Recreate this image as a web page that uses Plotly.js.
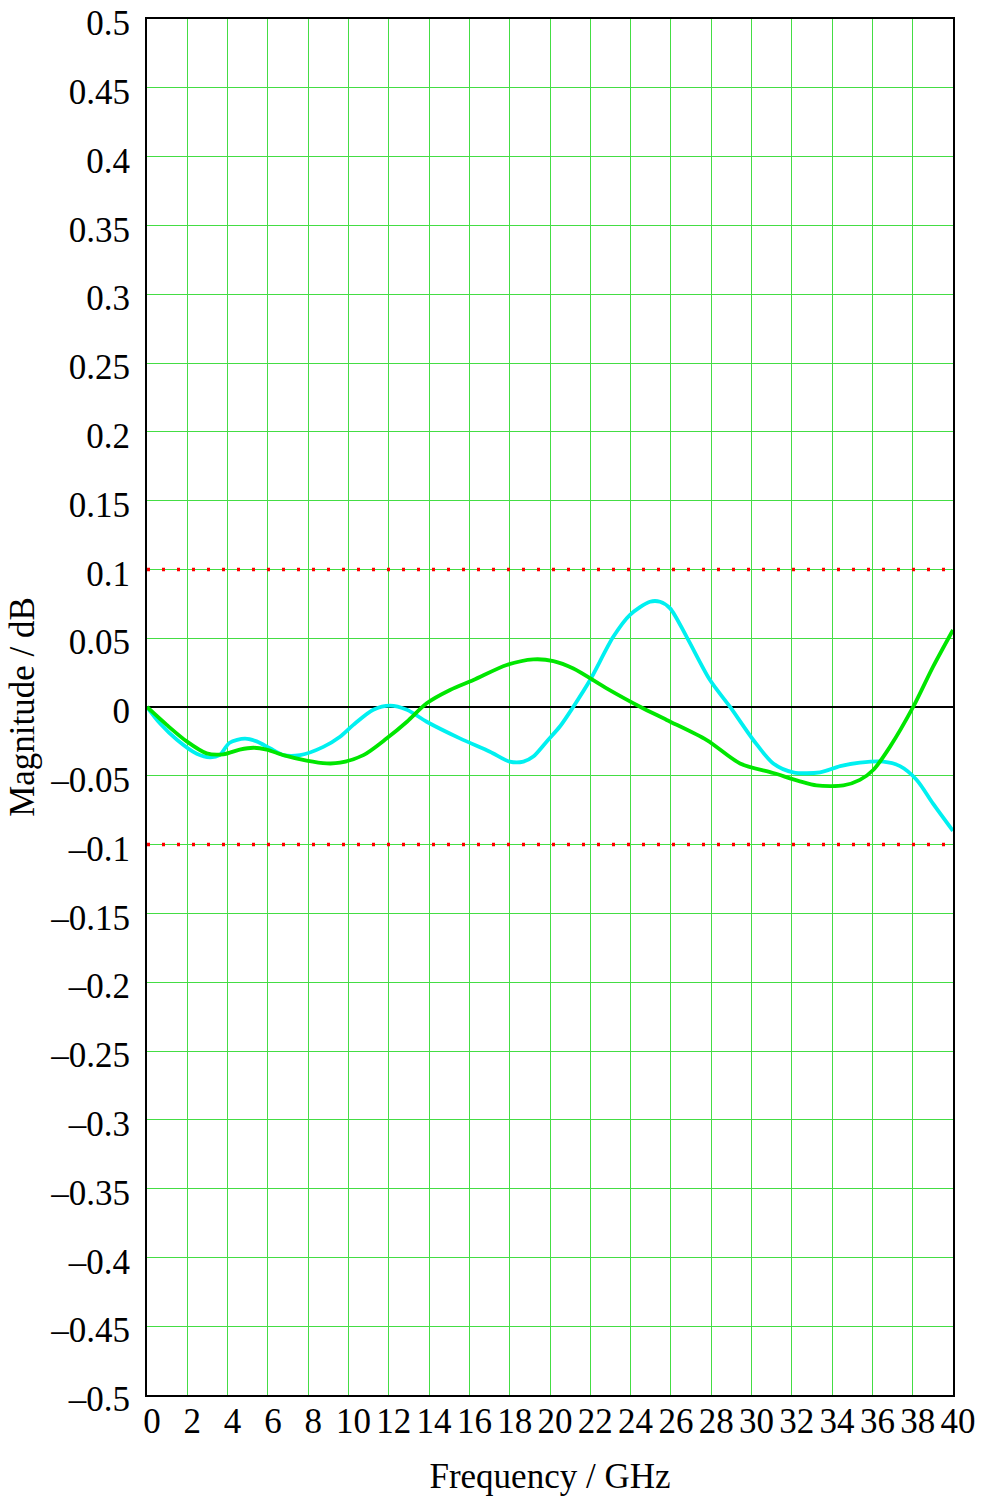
<!DOCTYPE html>
<html>
<head>
<meta charset="utf-8">
<script src="https://cdn.plot.ly/plotly-3.0.1.min.js"></script>
<style>html,body{margin:0;padding:0;background:#fff}#chart{width:988px;height:1499px}</style>
</head>
<body>
<div id="chart"></div>
<script>
// Cyan trace
const cyanFreq = [0, 0.65, 1.5, 2.47, 3.13, 3.6, 4.1, 4.86, 5.44, 6.1, 6.77, 7.6, 8.75, 9.58, 10.24, 11.23, 12.06, 12.9, 13.88, 15.53, 17.02, 18.0, 18.68, 19.17, 19.84, 20.5, 21.16, 21.99, 23.14, 23.97, 24.96, 25.46, 25.96, 26.78, 27.94, 28.93, 30.09, 31.08, 32.07, 33.4, 34.4, 35.38, 36.54, 37.37, 38.2, 39.0, 40.0];
const cyanMag  = [0, -0.012, -0.024, -0.034, -0.0366, -0.035, -0.026, -0.023, -0.025, -0.030, -0.035, -0.035, -0.029, -0.0216, -0.013, -0.002, 0.001, -0.002, -0.0107, -0.0228, -0.0325, -0.0397, -0.0397, -0.036, -0.025, -0.014, 0.0002, 0.0196, 0.051, 0.067, 0.0765, 0.0765, 0.0717, 0.051, 0.0196, 0.0002, -0.024, -0.041, -0.0475, -0.0475, -0.043, -0.0405, -0.0397, -0.043, -0.053, -0.070, -0.090];
// Green trace
const greenFreq = [0, 0.98, 1.97, 2.96, 3.79, 4.6, 5.28, 5.94, 6.77, 7.92, 8.92, 9.58, 10.74, 11.9, 12.9, 13.88, 15.04, 16.2, 17.85, 19.17, 20.17, 21.16, 22.81, 24.47, 25.79, 27.78, 29.43, 31.08, 32.4, 33.23, 34.56, 35.38, 36.04, 36.87, 38.03, 39.0, 40.0];
const greenMag  = [0, -0.013, -0.025, -0.0337, -0.0344, -0.031, -0.0296, -0.031, -0.035, -0.039, -0.041, -0.0405, -0.035, -0.0228, -0.0107, 0.0027, 0.0124, 0.0196, 0.0305, 0.0346, 0.0334, 0.028, 0.0136, 0.0002, -0.0094, -0.024, -0.041, -0.048, -0.054, -0.057, -0.057, -0.053, -0.0458, -0.029, 0.0002, 0.029, 0.056];
// Limit lines and reference
const limitValues = [0.1, -0.1];
const freqRange = [0, 40];
// Ticks
const xTickVals = [0,2,4,6,8,10,12,14,16,18,20,22,24,26,28,30,32,34,36,38,40];
const yTickVals = [0.5,0.45,0.4,0.35,0.3,0.25,0.2,0.15,0.1,0.05,0,-0.05,-0.1,-0.15,-0.2,-0.25,-0.3,-0.35,-0.4,-0.45,-0.5];
const yTickText = ["0.5","0.45","0.4","0.35","0.3","0.25","0.2","0.15","0.1","0.05","0","\u20130.05","\u20130.1","\u20130.15","\u20130.2","\u20130.25","\u20130.3","\u20130.35","\u20130.4","\u20130.45","\u20130.5"];

const font = {family: "Liberation Serif, Times New Roman, serif", size: 35, color: "#000"};

const traces = [];
limitValues.forEach(v => traces.push({
  x: freqRange, y: [v, v], mode: "lines", hoverinfo: "skip",
  line: {color: "#ff0000", width: 3.5, dash: "3px,12px"}
}));
traces.push({x: freqRange, y: [0, 0], mode: "lines", line: {color: "#000", width: 2}});
traces.push({x: cyanFreq, y: cyanMag, mode: "lines", line: {color: "#00f0f0", width: 3.8, shape: "spline", smoothing: 0.8}});
traces.push({x: greenFreq, y: greenMag, mode: "lines", line: {color: "#00e600", width: 3.8, shape: "spline", smoothing: 0.8}});

const layout = {
  width: 988, height: 1499,
  margin: {l: 147, r: 35, t: 19, b: 104},
  paper_bgcolor: "#fff", plot_bgcolor: "#fff",
  showlegend: false,
  font: font,
  xaxis: {
    range: freqRange, tickvals: xTickVals, ticktext: xTickVals.map(String),
    showgrid: true, gridcolor: "#44dd44", gridwidth: 1,
    zeroline: false, showline: true, linecolor: "#000", linewidth: 2, mirror: true,
    ticks: "", ticklabelstandoff: -6, ticklabelshift: 5, ticklabeloverflow: "allow", tickfont: font,
    title: {text: "Frequency / GHz", font: font, standoff: 23}
  },
  yaxis: {
    range: [-0.5, 0.5], tickvals: yTickVals, ticktext: yTickText,
    showgrid: true, gridcolor: "#44dd44", gridwidth: 1,
    zeroline: false, showline: true, linecolor: "#000", linewidth: 2, mirror: true,
    ticks: "", ticklabelstandoff: 8, ticklabelshift: 4, ticklabeloverflow: "allow", tickfont: font,
    title: {text: "Magnitude / dB", font: font, standoff: 5}
  }
};

Plotly.newPlot("chart", traces, layout, {displayModeBar: false, staticPlot: true});
</script>
</body>
</html>
